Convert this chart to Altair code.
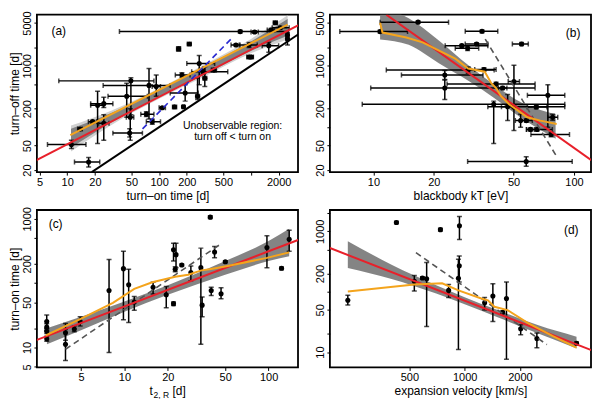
import altair as alt
import pandas as pd

FONT = "Liberation Sans"
W, H = 262, 158
RED = "#e8202a"
ORANGE = "#f4a41c"
BAND = "#7d7d7d"
LIGHT = "#cfcfcf"

# ---------------- panel (a): turn-on vs turn-off ----------------
a_x   = [11.1, 17.1, 13.8, 18.9, 21.4, 25.0, 25.0, 44.4, 49.3, 48.5, 47.8, 77.6, 93.0, 72.6, 84.3, 108, 147, 184, 192, 177, 163, 213, 262, 273, 301, 314, 395, 762, 1094, 1652, 1837, 2078, 2490, 685, 951, 951, 1007, 1559, 2490]
a_xlo = [6.1, 12.0, 13.0, 17.0, 18.0, 18.0, 22.0, 27.8, 8.1, 44.0, 31.4, 24.6, 84.0, 63.2, 72.6, 100, 140, 178, 132, 150, 155, 203, 250, 200, 226, 300, 370, 37, 1000, 1500, 1750, 1700, 2400, 606, 743, 900, 960, 1322, 2400]
a_xhi = [16.0, 22.6, 14.6, 21.0, 24.6, 31.4, 28.5, 74.5, 87.8, 53.0, 65.8, 132, 103.5, 87.8, 103.5, 117, 155, 190, 266, 217, 171, 223, 275, 402, 558, 330, 420, 2551, 1200, 1800, 1930, 2600, 2580, 760, 1168, 1000, 1060, 1995, 2580]
a_y   = [52, 27, 93, 123, 227, 242, 116, 320, 569, 145, 80, 480, 462, 163, 123, 208, 214, 216, 362, 710, 1890, 2270, 320, 1090, 802, 628, 853, 3620, 3575, 3850, 5040, 4190, 3160, 2190, 2190, 1393, 1393, 2135, 2730]
a_ylo = [45, 22.4, 89, 117, 54, 210, 61, 145, 160, 61, 69, 136, 320, 150, 112, 200, 206, 208, 266, 650, 1750, 2170, 283, 491, 720, 462, 800, 3450, 3400, 3650, 4800, 4000, 2800, 2100, 2000, 1330, 1330, 1673, 2190]
a_yhi = [61, 32, 97, 129, 385, 309, 160, 522, 640, 200, 94, 907, 710, 178, 135, 216, 222, 224, 491, 775, 2040, 2370, 628, 1480, 890, 964, 910, 3800, 3750, 4050, 5300, 4400, 3500, 2280, 2400, 1460, 1460, 2417, 3280]
a_red_x = [4.5, 3400]
a_red_y = [28.3, 4750]
a_orange_x = [10.8, 2500]
a_orange_y = [74, 4700]
a_blue_x = [66, 630]
a_blue_y = [94, 2900]
a_band_x  = [11, 30, 100, 300, 1000, 2500]
a_band_lo = [46, 118, 310, 700, 1750, 3100]
a_band_hi = [94, 170, 400, 950, 2500, 5800]
a_light_lo = [40, 108, 290, 650, 1600, 2700]
a_light_hi = [106, 186, 430, 1020, 2750, 6700]
a_diag = [18.5, 3500]
a_xdom = [4.68, 3243]
a_ydom = [18.5, 6840]

# ---------------- panel (b): blackbody kT ----------------
b_x   = [10.8, 16.7, 34.8, 54.8, 27.6, 29.5, 32.7, 29.7, 35.6, 22.7, 22.7, 40.9, 44.1, 50.2, 39.8, 46.7, 50.2, 64.9, 54.2, 57.9, 60.7, 65.5, 74.1, 78.3, 76.9, 57.8]
b_xlo = [6.8, 10.8, 28.7, 49.3, 22.8, 25.6, 28.7, 11.6, 32.0, 13.8, 9.7, 23.3, 42.0, 47.0, 8.8, 43.5, 37.2, 58.5, 51.0, 54.0, 58.0, 58.0, 58.6, 74.0, 61.0, 29.5]
b_xhi = [14.8, 23.7, 41.7, 59.2, 37.2, 33.5, 37.2, 40.0, 40.9, 35.2, 64.0, 64.0, 46.3, 53.5, 90.0, 50.0, 90.0, 73.3, 57.5, 62.0, 63.5, 78.0, 90.0, 83.0, 95.0, 98.0]
b_y   = [3620, 5160, 3660, 2270, 2135, 1935, 2270, 853, 874, 710, 435, 504, 435, 556, 236, 216, 216, 214, 128, 128, 92, 92, 332, 145, 76, 27.6]
b_ylo = [3450, 4950, 3480, 2150, 2030, 1780, 2160, 760, 820, 600, 283, 470, 410, 88, 54, 128, 200, 200, 100, 120, 87, 87, 100, 130, 70, 23]
b_yhi = [3800, 5380, 3850, 2400, 2240, 2100, 2380, 960, 930, 840, 590, 540, 460, 1025, 266, 340, 232, 229, 163, 136, 97, 97, 491, 163, 83, 33]
b_red_x = [11.6, 122]
b_red_y = [6840, 29]
b_orange_x = [10.8, 11.1, 14.6, 17.6, 22.0, 25.6, 29.7, 35.9, 38.7, 40.9, 43.3, 47.5, 58.5, 68, 82]
b_orange_y = [5040, 3490, 2900, 2417, 1673, 1310, 907, 802, 522, 435, 320, 236, 145, 128, 113]
b_dash_x = [36.1, 82]
b_dash_y = [2730, 33.2]
b_band_x  = [10.8, 15, 21.2, 30, 40, 55, 81]
b_band_lo = [2700, 2200, 1100, 560, 300, 140, 65]
b_band_hi = [9000, 6000, 2600, 1000, 490, 250, 163]
b_xdom = [6.07, 121.6]
b_ydom = [18.5, 6840]

# ---------------- panel (c): t2,R vs turn-on ----------------
c_x   = [2.89, 2.89, 2.89, 2.89, 3.9, 3.9, 4.49, 4.93, 7.82, 9.84, 10.7, 11.7, 15.8, 19.5, 21.9, 21.9, 22.5, 22.8, 25.0, 28.9, 33.9, 34.6, 39.4, 40.0, 42.2, 46.8, 50.1, 97.4, 123, 139]
c_y   = [25.4, 20.8, 17.9, 13.7, 16.9, 11.2, 19.4, 25.4, 77, 168, 94, 51, 86.5, 66, 48, 330, 164, 277, 191, 146, 174, 45.5, 1060, 77, 305, 68.4, 215, 358, 170, 480]
c_ylo = [20.1, 18.5, 16.5, 12.5, 13.0, 6.3, 17.5, 21.5, 8.4, 27, 24.5, 38, 68, 41.5, 45, 220, 150, 174, 184, 109, 11.2, 30, 1010, 64.5, 247, 57, 207, 174, 162, 312]
c_yhi = [32, 23.4, 19.5, 15.0, 23.5, 19, 21.5, 30, 233, 312, 164, 62, 103, 88.5, 51, 417, 180, 417, 198, 185, 350, 61, 1110, 86.5, 372, 84.5, 223, 546, 178, 665]
c_red_x = [2.4, 165]
c_red_y = [12.8, 480]
c_orange_x = [2.85, 4.93, 8.32, 11.7, 15.6, 22.5, 27.7, 34.2, 39, 52, 97.4, 139]
c_orange_y = [15.4, 27.6, 49.4, 81.5, 103, 126, 135, 158, 164, 185, 247, 301]
c_dash_x = [3.9, 45.6]
c_dash_y = [9.4, 393]
c_band_x  = [2.9, 5, 10, 20, 50, 100, 139]
c_band_lo = [11.2, 18.5, 36, 66, 135, 220, 262]
c_band_hi = [20, 30, 52, 93, 220, 450, 700]
c_xdom = [2.47, 160]
c_ydom = [4.9, 1370]

# ---------------- panel (d): expansion velocity ----------------
d_x   = [231, 425, 738, 937, 532, 589, 621, 818, 925, 935, 1285, 1425, 1690, 1610, 2020, 2475, 4070]
d_y   = [72.2, 1400, 1065, 1236, 149, 169, 163, 105, 167, 268, 65.3, 85, 77, 45.5, 24.3, 16.7, 14.0]
d_ylo = [60, 1330, 1010, 731, 103, 161, 26.5, 80, 11, 144, 49.6, 32, 7.6, 43, 19.4, 11.8, 13.3]
d_yhi = [87, 1470, 1120, 1757, 185, 177, 305, 132, 345, 391, 80, 135, 144, 48, 28.2, 20.7, 14.7]
d_red_x = [180, 5000]
d_red_y = [545, 10.5]
d_orange_x = [231, 532, 754, 925, 1233, 1340, 1453, 1713, 2192, 3044, 4070]
d_orange_y = [101, 132, 138, 105, 77, 72, 56.3, 49.6, 30.8, 18.2, 11.8]
d_dash_x = [543, 2805]
d_dash_y = [444, 13.3]
d_band_x  = [231, 400, 700, 1000, 1500, 2500, 4070]
d_band_lo = [246, 162, 93, 62, 38, 20.5, 11.5]
d_band_hi = [687, 280, 128, 81, 50, 28, 18]
d_xdom = [184.5, 4880]
d_ydom = [5.56, 2255]


def make_axis(values, labeled, title, vertical=False):
    expr = "indexof(%s, datum.value) >= 0 ? datum.label : ''" % str(labeled)
    kw = dict(values=values, format="d", labelExpr=expr, tickSize=3, tickColor="black",
              tickWidth=1, domain=False, grid=False, labelFont=FONT, labelFontSize=11,
              labelColor="black", titleFont=FONT, titleFontSize=12, titleFontWeight="normal",
              titleColor="black", labelPadding=1, labelFlush=False, labelOverlap=False,
              titlePadding=0 if vertical else 3)
    if title is None:
        kw["title"] = None
    else:
        kw["title"] = title
    if vertical:
        kw.update(labelAngle=270, labelAlign="center", labelBaseline="bottom")
    return alt.Axis(**kw)


def panel(xdom, ydom, xaxis, yaxis, pts, hbars, vbars, bands, lines, texts, extra_under=None, extra_layers=None):
    xs = alt.Scale(type="log", domain=xdom, nice=False)
    ys = alt.Scale(type="log", domain=ydom, nice=False)

    def X(f):
        return alt.X(f + ":Q", scale=xs, axis=xaxis)

    def Y(f):
        return alt.Y(f + ":Q", scale=ys, axis=yaxis)

    layers = []
    if extra_under is not None:
        df = extra_under
        layers.append(alt.Chart(df).mark_area(color="#f2f2f2", clip=True).encode(
            x=X("x"), y=Y("y"), y2=alt.value(H)))
        layers.append(alt.Chart(df).mark_line(color="black", strokeWidth=2, clip=True).encode(
            x=X("x"), y=Y("y")))
    for df, color in bands:
        layers.append(alt.Chart(df).mark_area(color=color, opacity=0.95, interpolate="monotone",
                                              clip=True).encode(x=X("x"), y=Y("lo"), y2=alt.Y2("hi:Q")))
    if hbars is not None:
        layers.append(alt.Chart(hbars).mark_rule(color="black", strokeWidth=1.5, clip=True).encode(
            x=X("xlo"), x2=alt.X2("xhi:Q"), y=Y("y")))
        for f in ["xlo", "xhi"]:
            layers.append(alt.Chart(hbars).mark_tick(color="black", orient="vertical", size=5,
                                                     thickness=1.5, clip=True).encode(x=X(f), y=Y("y")))
    if vbars is not None:
        layers.append(alt.Chart(vbars).mark_rule(color="black", strokeWidth=1.5, clip=True).encode(
            x=X("x"), y=Y("ylo"), y2=alt.Y2("yhi:Q")))
        for f in ["ylo", "yhi"]:
            layers.append(alt.Chart(vbars).mark_tick(color="black", orient="horizontal", size=5,
                                                     thickness=1.5, clip=True).encode(x=X("x"), y=Y(f)))
    layers.append(alt.Chart(pts).mark_circle(color="black", opacity=1, size=26, clip=True).encode(
        x=X("x"), y=Y("y")))
    for df, color, dash in lines:
        kw = dict(color=color, strokeWidth=2, clip=True)
        if dash:
            kw["strokeDash"] = [6, 4]
            kw["strokeWidth"] = 1.6
        layers.append(alt.Chart(df).mark_line(**kw).encode(x=X("x"), y=Y("y")))
    for df, size in texts:
        layers.append(alt.Chart(df).mark_text(font=FONT, fontSize=size, color="black").encode(
            x=X("x"), y=Y("y"), text="t:N"))
    if extra_layers:
        layers.extend(extra_layers)
    return alt.layer(*layers).properties(width=W, height=H)


def line_df(xs, ys):
    return pd.DataFrame({"x": xs, "y": ys})


def band_df(xs, lo, hi):
    return pd.DataFrame({"x": xs, "lo": lo, "hi": hi})


# panel a
a_pts = pd.DataFrame({"x": a_x, "y": a_y, "xlo": a_xlo, "xhi": a_xhi, "ylo": a_ylo, "yhi": a_yhi})
pa = panel(
    a_xdom, a_ydom,
    make_axis([5, 10, 20, 50, 100, 200, 500, 1000, 2000], [5, 10, 20, 50, 100, 200, 500, 2000], "turn\u2013on time [d]"),
    make_axis([20, 50, 100, 200, 500, 1000, 2000, 5000], [20, 50, 200, 1000, 5000], "turn\u2013off time [d]", True),
    a_pts, a_pts, a_pts,
    [(band_df(a_band_x, a_light_lo, a_light_hi), LIGHT), (band_df(a_band_x, a_band_lo, a_band_hi), BAND)],
    [(line_df(a_red_x, a_red_y), RED, False), (line_df(a_orange_x, a_orange_y), ORANGE, False),
     (line_df(a_blue_x, a_blue_y), "#2a2ad0", True)],
    [(pd.DataFrame({"x": [8.1], "y": [3700], "t": ["(a)"]}), 12),
     (pd.DataFrame({"x": [630, 630], "y": [106, 70], "t": ["Unobservable region:", "turn off < turn on"]}), 10.5)],
    extra_under=line_df(a_diag, a_diag),
)

# panel b
b_pts = pd.DataFrame({"x": b_x, "y": b_y, "xlo": b_xlo, "xhi": b_xhi, "ylo": b_ylo, "yhi": b_yhi})
pb = panel(
    b_xdom, b_ydom,
    make_axis([10, 20, 50, 100], [10, 20, 50, 100], "blackbody kT [eV]"),
    make_axis([20, 50, 100, 200, 500, 1000, 2000, 5000], [20, 50, 200, 1000, 5000], None, True),
    b_pts, b_pts, b_pts,
    [(band_df(b_band_x, b_band_lo, b_band_hi), BAND)],
    [(line_df(b_dash_x, b_dash_y), "#555555", True), (line_df(b_red_x, b_red_y), RED, False),
     (line_df(b_orange_x, b_orange_y), ORANGE, False)],
    [(pd.DataFrame({"x": [99], "y": [3490], "t": ["(b)"]}), 12)],
)

# panel c
c_pts = pd.DataFrame({"x": c_x, "y": c_y, "ylo": c_ylo, "yhi": c_yhi})
sub = [
    alt.Chart(pd.DataFrame({"t": ["t"]})).mark_text(font=FONT, fontSize=12, align="left", baseline="alphabetic").encode(
        x=alt.value(W / 2 - 18), y=alt.value(H + 28), text="t:N"),
    alt.Chart(pd.DataFrame({"t": ["2, R"]})).mark_text(font=FONT, fontSize=8.5, align="left", baseline="alphabetic").encode(
        x=alt.value(W / 2 - 14), y=alt.value(H + 31), text="t:N"),
    alt.Chart(pd.DataFrame({"t": ["[d]"]})).mark_text(font=FONT, fontSize=12, align="left", baseline="alphabetic").encode(
        x=alt.value(W / 2 + 5), y=alt.value(H + 28), text="t:N"),
]
pc = panel(
    c_xdom, c_ydom,
    make_axis([5, 10, 20, 50, 100], [5, 10, 20, 50, 100], None),
    make_axis([5, 10, 20, 50, 100, 200, 500, 1000], [5, 10, 50, 200, 1000], "turn\u2013on time [d]", True),
    c_pts, None, c_pts,
    [(band_df(c_band_x, c_band_lo, c_band_hi), BAND)],
    [(line_df(c_dash_x, c_dash_y), "#555555", True), (line_df(c_red_x, c_red_y), RED, False),
     (line_df(c_orange_x, c_orange_y), ORANGE, False)],
    [(pd.DataFrame({"x": [3.33], "y": [840], "t": ["(c)"]}), 12)],
    extra_layers=sub,
)

# panel d
d_pts = pd.DataFrame({"x": d_x, "y": d_y, "ylo": d_ylo, "yhi": d_yhi})
pd_ = panel(
    d_xdom, d_ydom,
    make_axis([500, 1000, 2000], [500, 1000, 2000], "expansion velocity [km/s]"),
    make_axis([10, 20, 50, 100, 200, 500, 1000, 2000], [10, 50, 200, 1000], None, True),
    d_pts, None, d_pts,
    [(band_df(d_band_x, d_band_lo, d_band_hi), BAND)],
    [(line_df(d_dash_x, d_dash_y), "#555555", True), (line_df(d_red_x, d_red_y), RED, False),
     (line_df(d_orange_x, d_orange_y), ORANGE, False)],
    [(pd.DataFrame({"x": [3810], "y": [1065], "t": ["(d)"]}), 12)],
)

chart = alt.ConcatChart(
    concat=[pa, pb, pc, pd_], columns=2,
    spacing=alt.RowColnumber(row=38, column=32), bounds="flush",
).properties(
    padding={"left": 0, "top": 1, "right": 0, "bottom": 0}
).configure(background="white").configure_view(stroke="black", strokeWidth=1.8)

chart.save("out.html", embed_options={"renderer": "svg", "actions": False})
